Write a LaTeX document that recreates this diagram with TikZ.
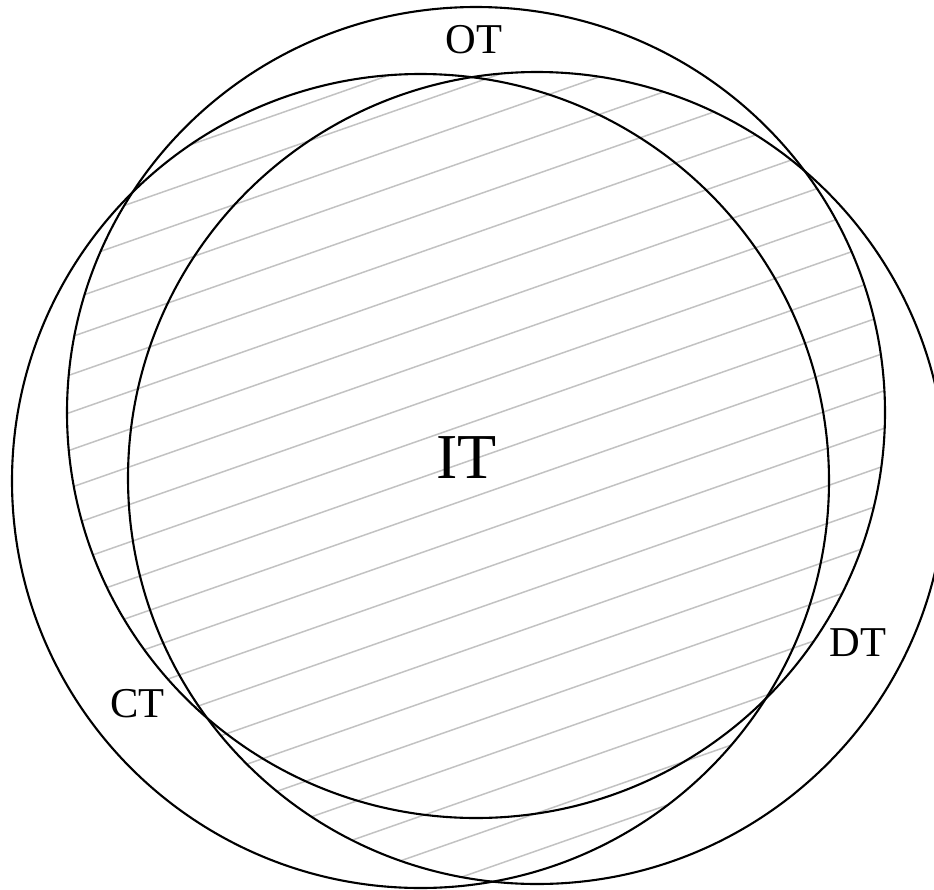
\documentclass[tikz,border=0pt]{standalone}
\usepackage{fontspec}
\setmainfont{Liberation Serif}
\definecolor{hatchgray}{RGB}{194,194,194}
\newcommand{\myhatchlines}{%
  \foreach \k in {-14,...,26}{%
    \pgfmathsetmacro{\cc}{437+37.6*\k}%
    \draw[hatch] (-10,{\cc+3.5}) -- (944,{\cc-0.35*944});
  }%
}
\begin{document}
\begin{tikzpicture}[x=1pt,y=-1pt,
  circ/.style={draw=black, line width=2.1pt},
  hatch/.style={draw=hatchgray, line width=1.5pt},
  lbl/.style={font=\fontsize{42.5}{46}\selectfont, inner sep=0pt, anchor=base},
  biglbl/.style={font=\fontsize{64}{70}\selectfont, inner sep=0pt, anchor=base}]
\useasboundingbox (0,0) rectangle (934,889);
\coordinate (ot) at (476,412.5);
\coordinate (ct) at (420.5,481);
\coordinate (dt) at (537,478);
\def\otpath{(ot) ellipse [x radius=409pt, y radius=405.5pt]}
\def\ctpath{(ct) ellipse [x radius=408.5pt, y radius=407pt]}
\def\dtpath{(dt) ellipse [x radius=409pt, y radius=406pt]}
% OT and CT
\begin{scope}
  \clip \otpath;
  \clip \ctpath;
  \myhatchlines
\end{scope}
% OT and DT, not CT
\begin{scope}[even odd rule]
  \clip \otpath;
  \clip \dtpath;
  \clip (-20,-20) rectangle (960,910) \ctpath;
  \myhatchlines
\end{scope}
% CT and DT, not OT
\begin{scope}[even odd rule]
  \clip \ctpath;
  \clip \dtpath;
  \clip (-20,-20) rectangle (960,910) \otpath;
  \myhatchlines
\end{scope}
\draw[circ] \otpath;
\draw[circ] \ctpath;
\draw[circ] \dtpath;
\node[lbl] (lot) at (474,53.5) {OT};
\node[lbl] (lct) at (137.5,717.7) {CT};
\node[lbl] (ldt) at (858,656.7) {DT};
\node[biglbl] (lit) at (466.7,478.3) {IT};
\end{tikzpicture}
\end{document}
